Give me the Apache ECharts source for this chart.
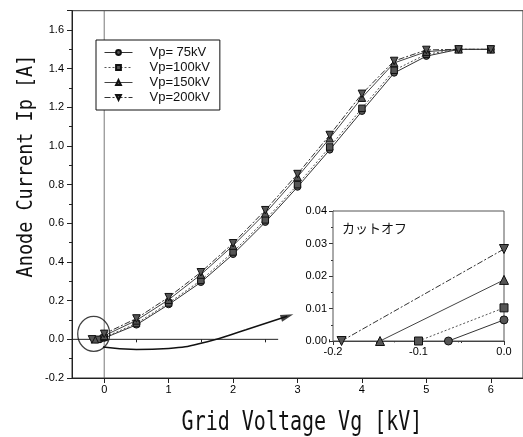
<!DOCTYPE html>
<html><head><meta charset="utf-8">
<script src="https://cdn.jsdelivr.net/npm/echarts@6/dist/echarts.min.js"></script>
<style>html,body{margin:0;padding:0;background:#fff}#c{width:523px;height:437px}</style>
</head><body><div id="c"></div>
<script>
// ---- data ----
const seriesNames = ['Vp= 75kV', 'Vp=100kV', 'Vp=150kV', 'Vp=200kV'];
const gridVoltage = [0, 0.5, 1, 1.5, 2, 2.5, 3, 3.5, 4, 4.5, 5, 5.5, 6];
const ip75  = [0.0065, 0.075, 0.180, 0.295, 0.440, 0.606, 0.788, 0.980, 1.180, 1.378, 1.465, 1.500, 1.500];
const ip100 = [0.0102, 0.082, 0.188, 0.305, 0.452, 0.618, 0.800, 0.995, 1.195, 1.392, 1.475, 1.500, 1.500];
const ip150 = [0.0188, 0.098, 0.205, 0.335, 0.485, 0.652, 0.840, 1.040, 1.250, 1.430, 1.488, 1.500, 1.500];
const ip200 = [0.0283, 0.108, 0.218, 0.347, 0.497, 0.668, 0.855, 1.057, 1.270, 1.440, 1.497, 1.500, 1.500];
const cutoffVoltage = [-0.065, -0.10, -0.145, -0.19];
const xTickValues = [0, 1, 2, 3, 4, 5, 6];
const xTickLabels = ['0', '1', '2', '3', '4', '5', '6'];
const xMinorTickValues = [-0.5, 0.5, 1.5, 2.5, 3.5, 4.5, 5.5];
const yTickLabels = ['-0.2', '0.0', '0.2', '0.4', '0.6', '0.8', '1.0', '1.2', '1.4', '1.6'];
const insetXTickLabels = ['-0.2', '-0.1', '0.0'];
const insetYTickLabels = ['0.00', '0.01', '0.02', '0.03', '0.04'];
const insetTitle = 'カットオフ';
const xTitle = 'Grid Voltage Vg [kV]';
const yTitle = 'Anode Current Ip [A]';
// annotation: arrow curve (data coords) and circle around cutoff region
const arrowVg = [-0.02, 0.5, 1.0, 1.6, 2.2, 2.84];
const arrowIp = [-0.040, -0.052, -0.047, -0.012, 0.050, 0.119];
const circleCenter = [-0.163, 0.028];
const zeroLineEnd = 2.70;

// ---- styles ----
const symbols = ['circle', 'rect', 'triangle', 'triangle'];
const symbolRot = [0, 0, 0, 180];
const symbolSizes = [6.5, 6.5, 7.5, 7.5];
const lineTypes = ['solid', [2, 2], 'solid', [6, 2, 2, 2]];
const lineColors = ['#333', '#555', '#444', '#333'];
const ipAll = [ip75, ip100, ip150, ip200];
const tickFont = {fontFamily: 'Liberation Sans, Arial', fontSize: 11, color: '#000'};

const chart = echarts.init(document.getElementById('c'), null, {renderer: 'canvas'});
const series = [];
ipAll.forEach((arr, i) => {
  const data = [[cutoffVoltage[i], 0]].concat(gridVoltage.map((v, k) => [v, arr[k]]));
  series.push({
    name: seriesNames[i], type: 'line', xAxisIndex: 0, yAxisIndex: 0,
    data: data, symbol: symbols[i], symbolRotate: symbolRot[i], symbolSize: symbolSizes[i],
    showAllSymbol: true, z: 5,
    lineStyle: {color: lineColors[i], width: 1, type: lineTypes[i]},
    itemStyle: {color: '#555', borderColor: '#111', borderWidth: 1},
    animation: false
  });
  series.push({
    name: seriesNames[i], type: 'line', xAxisIndex: 2, yAxisIndex: 1, clip: false,
    data: [[cutoffVoltage[i], 0], [0, arr[0]]],
    symbol: symbols[i], symbolRotate: symbolRot[i], symbolSize: symbolSizes[i] + 1.5, z: 12,
    lineStyle: {color: lineColors[i], width: 1, type: lineTypes[i]},
    itemStyle: {color: '#555', borderColor: '#111', borderWidth: 1},
    animation: false
  });
});
// reference lines
series.push({type: 'line', xAxisIndex: 0, yAxisIndex: 0, data: [[-0.5, 0], [zeroLineEnd, 0]],
  symbol: 'none', lineStyle: {color: '#222', width: 1}, z: 3, animation: false, silent: true});
series.push({type: 'line', xAxisIndex: 0, yAxisIndex: 0, data: [[0, -0.2], [0, 1.7]],
  symbol: 'none', lineStyle: {color: '#555', width: 0.8}, z: 3, animation: false, silent: true});
// arrow curve
series.push({type: 'line', xAxisIndex: 0, yAxisIndex: 0, smooth: true,
  data: arrowVg.map((v, k) => [v, arrowIp[k]]),
  symbol: 'none', lineStyle: {color: '#111', width: 1.5}, z: 6, animation: false, silent: true});
series.push({type: 'scatter', xAxisIndex: 0, yAxisIndex: 0,
  data: [[arrowVg[arrowVg.length - 1], arrowIp[arrowIp.length - 1]]],
  symbol: 'triangle', symbolSize: [7, 13], symbolRotate: -72,
  itemStyle: {color: '#111'}, z: 7, animation: false, silent: true});
// circle
series.push({type: 'scatter', xAxisIndex: 0, yAxisIndex: 0, data: [circleCenter],
  symbol: 'circle', symbolSize: [32, 35],
  itemStyle: {color: 'rgba(0,0,0,0)', borderColor: '#111', borderWidth: 1.3}, z: 8, animation: false, silent: true});

const option = {
  backgroundColor: '#fff',
  animation: false,
  legend: {
    data: seriesNames, orient: 'vertical', left: 96, top: 40,
    itemWidth: 28, itemHeight: 6, itemGap: 2,
    padding: [6, 10, 6, 8],
    borderColor: '#111', borderWidth: 1, backgroundColor: '#fff',
    lineStyle: {width: 1},
    textStyle: {fontFamily: 'Liberation Sans, Arial', fontSize: 13, color: '#111', padding: [0, 0, 0, 12]},
    inactiveColor: '#111', z: 20
  },
  grid: [
    {left: 72, top: 10.7, right: 0, bottom: 59, show: true, borderColor: '#333', borderWidth: 1, backgroundColor: 'transparent'},
    {left: 333, top: 211, width: 171, height: 130, show: true, borderColor: '#555', borderWidth: 1, backgroundColor: '#fff', z: 10}
  ],
  xAxis: [
    {type: 'value', gridIndex: 0, min: -0.5, max: 6.5,
      axisLine: {show: true, onZero: false, lineStyle: {color: '#222'}},
      axisTick: {show: true, length: 5, lineStyle: {color: '#222'}, customValues: xTickValues},
      splitLine: {show: false},
      axisLabel: Object.assign({margin: 6, customValues: xTickValues,
        formatter: v => xTickLabels[xTickValues.indexOf(Math.round(v))] || ''}, tickFont)
    },
    {type: 'value', gridIndex: 0, min: -0.5, max: 6.5, position: 'bottom',
      axisLine: {show: false},
      axisTick: {show: true, length: 3, lineStyle: {color: '#222'}, customValues: xMinorTickValues},
      axisLabel: {show: false}, splitLine: {show: false}
    },
    {type: 'value', gridIndex: 1, min: -0.2, max: 0, interval: 0.1,
      axisLine: {show: true, onZero: false, lineStyle: {color: '#333'}},
      axisTick: {show: true, length: 4, lineStyle: {color: '#333'}},
      minorTick: {show: true, splitNumber: 2, length: 2, lineStyle: {color: '#333'}},
      splitLine: {show: false},
      axisLabel: Object.assign({margin: 5,
        formatter: v => insetXTickLabels[Math.round((v + 0.2) / 0.1)] || ''}, tickFont)
    }
  ],
  yAxis: [
    {type: 'value', gridIndex: 0, min: -0.2, max: 1.7, interval: 0.2,
      axisLine: {show: true, onZero: false, lineStyle: {color: '#222'}},
      axisTick: {show: true, length: 5, lineStyle: {color: '#222'}},
      minorTick: {show: true, splitNumber: 2, length: 3, lineStyle: {color: '#222'}},
      splitLine: {show: false},
      axisLabel: Object.assign({margin: 8, showMaxLabel: false,
        formatter: v => yTickLabels[Math.round((v + 0.2) / 0.2)] || ''}, tickFont)
    },
    {type: 'value', gridIndex: 1, min: 0, max: 0.04, interval: 0.01,
      axisLine: {show: true, onZero: false, lineStyle: {color: '#333'}},
      axisTick: {show: true, length: 4, lineStyle: {color: '#333'}},
      minorTick: {show: true, splitNumber: 2, length: 2, lineStyle: {color: '#333'}},
      splitLine: {show: false},
      axisLabel: Object.assign({margin: 6,
        formatter: v => insetYTickLabels[Math.round(v / 0.01)] || ''}, tickFont)
    }
  ],
  graphic: [
    {type: 'text', x: 302, y: 423, scaleY: 1.3, z: 30,
      style: {text: xTitle, font: '20px "DejaVu Sans Mono"', fill: '#111', textAlign: 'center', textVerticalAlign: 'middle'}},
    {type: 'text', x: 26, y: 166, rotation: Math.PI / 2, scaleY: 1.15, z: 30,
      style: {text: yTitle, font: '18.5px "DejaVu Sans Mono"', fill: '#111', textAlign: 'center', textVerticalAlign: 'middle'}},
    {type: 'text', x: 342, y: 228, z: 30,
      style: {text: insetTitle, font: '13px "Noto Sans CJK JP"', fill: '#111', textAlign: 'left', textVerticalAlign: 'middle'}}
  ],
  series: series
};
chart.setOption(option);
</script>
</body></html>
